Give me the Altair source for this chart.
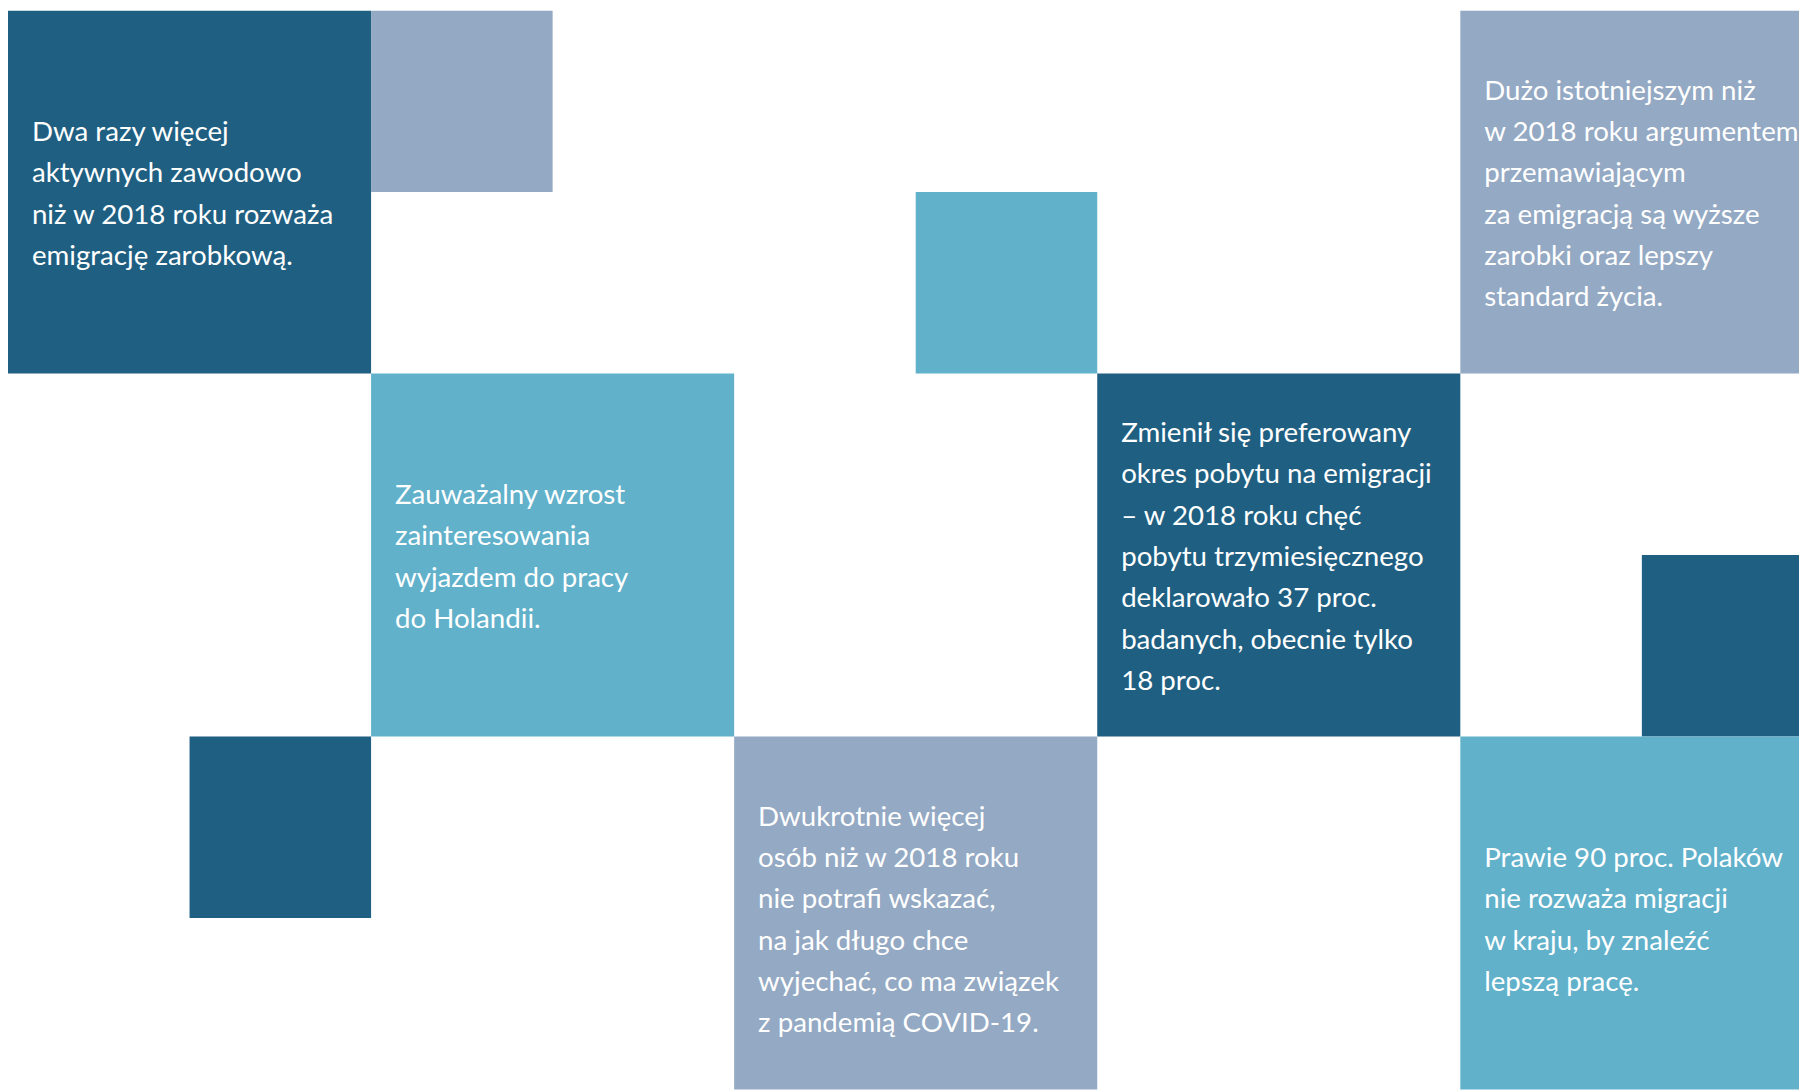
import altair as alt
import pandas as pd

# ---- data: tiles on a 5 x 3 grid (grid units, y counted from top) ----
tile_x = [0, 1, 2.5, 4, 1, 3, 4.5, 0.5, 2, 4]
tile_y = [0, 0, 0.5, 0, 1, 1, 1.5, 2, 2, 2]
tile_size = [1, 0.5, 0.5, 1, 1, 1, 0.5, 0.5, 1, 1]
tile_tone = ["dark", "steel", "teal", "steel", "teal", "dark", "dark", "dark", "steel", "teal"]

# ---- texts inside the full tiles ----
text_x = [0, 4, 1, 3, 2, 4]
text_y = [0, 0, 1, 1, 2, 2]
text_lines = [
    ["Dwa razy więcej", "aktywnych zawodowo", "niż w 2018 roku rozważa", "emigrację zarobkową."],
    ["Dużo istotniejszym niż", "w 2018 roku argumentem", "przemawiającym",
     "za emigracją są wyższe", "zarobki oraz lepszy", "standard życia."],
    ["Zauważalny wzrost", "zainteresowania", "wyjazdem do pracy", "do Holandii."],
    ["Zmienił się preferowany", "okres pobytu na emigracji", "– w 2018 roku chęć",
     "pobytu trzymiesięcznego", "deklarowało 37 proc.", "badanych, obecnie tylko", "18 proc."],
    ["Dwukrotnie więcej", "osób niż w 2018 roku", "nie potrafi wskazać,", "na jak długo chce",
     "wyjechać, co ma związek", "z pandemią COVID-19."],
    ["Prawie 90 proc. Polaków", "nie rozważa migracji", "w kraju, by znaleźć", "lepszą pracę."],
]

UNIT = 364.7   # px per grid unit
LINE = 41.5    # px line spacing
W, H = 1799, 1084

tiles = pd.DataFrame({
    "x": tile_x,
    "x2": [a + s for a, s in zip(tile_x, tile_size)],
    "y": tile_y,
    "y2": [a + s for a, s in zip(tile_y, tile_size)],
    "tone": tile_tone,
})

rows = []
for tx, ty, lines in zip(text_x, text_y, text_lines):
    for i, line in enumerate(lines):
        rows.append({"x": tx, "y": ty, "i": i, "n": len(lines), "label": line})
texts = pd.DataFrame(rows)

xs = alt.Scale(domain=[0, W / UNIT], nice=False, zero=False)
ys = alt.Scale(domain=[0, H / UNIT], nice=False, zero=False, reverse=True)
color_scale = alt.Scale(domain=["dark", "steel", "teal"],
                        range=["#1f5f82", "#94a9c3", "#61b1cb"])

rects = alt.Chart(tiles).mark_rect(clip=True).encode(
    x=alt.X("x:Q", scale=xs, axis=None),
    x2="x2:Q",
    y=alt.Y("y:Q", scale=ys, axis=None),
    y2="y2:Q",
    color=alt.Color("tone:N", scale=color_scale, legend=None),
)

labels = alt.Chart(texts).transform_calculate(
    yc=f"datum.y + 0.5 + (datum.i - (datum.n - 1) / 2) * {LINE / UNIT}"
).mark_text(
    align="left", baseline="middle", dx=24, dy=3, color="white",
    font="Lato", fontSize=27.8,
).encode(
    x=alt.X("x:Q", scale=xs, axis=None),
    y=alt.Y("yc:Q", scale=ys, axis=None),
    text="label:N",
)

chart = alt.layer(rects, labels).properties(
    width=W, height=H, padding=0, autosize=alt.AutoSizeParams(type="none")
).configure_view(stroke=None)

chart.save("out.html", embed_options={"renderer": "svg", "actions": False})
